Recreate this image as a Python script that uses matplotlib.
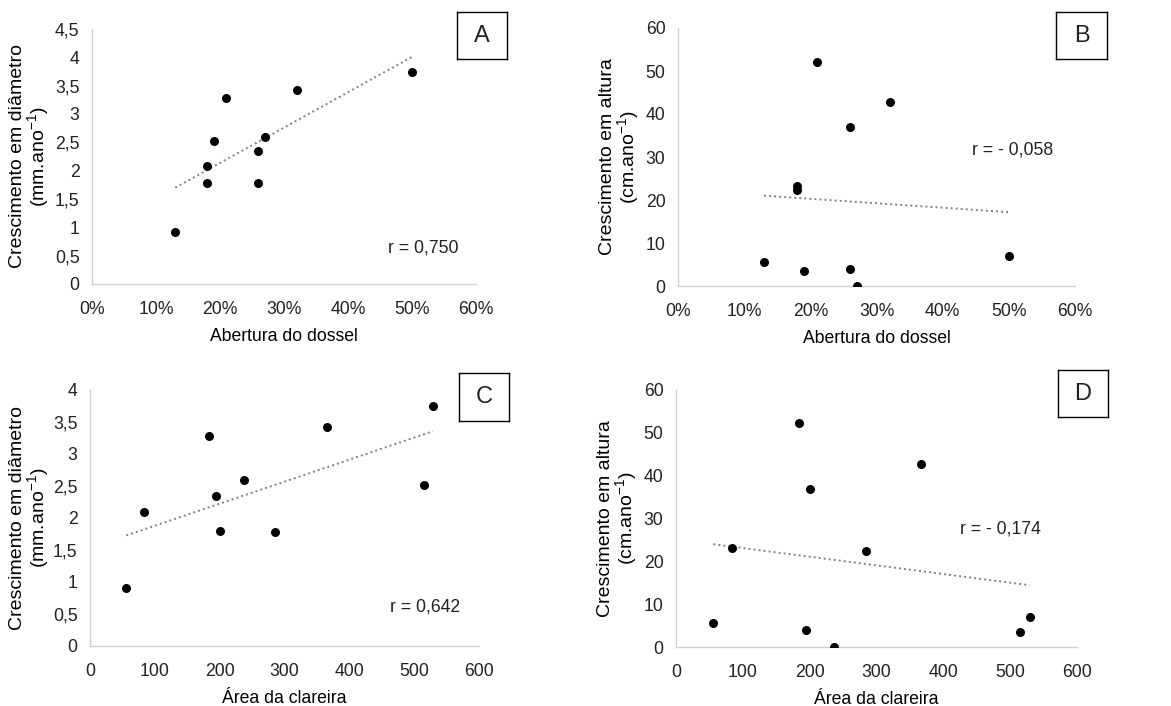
import matplotlib
matplotlib.use("Agg")
import matplotlib.pyplot as plt
import numpy as np
from matplotlib.ticker import FuncFormatter

plt.rcParams.update({
    "font.family": ["Liberation Sans", "DejaVu Sans"],
    "mathtext.fontset": "custom",
    "mathtext.rm": "Liberation Sans",
    "mathtext.default": "regular",
    "font.size": 12.7,
    "text.color": "#222222",
})

# dados por planta (10 indivíduos)
abertura = [0.13, 0.18, 0.18, 0.19, 0.21, 0.26, 0.26, 0.27, 0.32, 0.50]
area = [56, 84, 285, 515, 184, 195, 201, 237, 366, 529]
diametro = [0.91, 2.09, 1.78, 2.52, 3.28, 2.34, 1.79, 2.60, 3.42, 3.75]
altura = [5.6, 23.2, 22.3, 3.6, 52.2, 4.0, 36.9, 0.0, 42.8, 7.0]

r_text = {"A": "r = 0,750", "B": "r = - 0,058", "C": "r = 0,642", "D": "r = - 0,174"}

lab_diam = "Crescimento em diâmetro\n(mm.ano$^{-1}$)"
lab_alt = "Crescimento em altura\n(cm.ano$^{-1}$)"

W, H = 1171, 706
fig = plt.figure(figsize=(W / 100, H / 100), dpi=100)


def px_axes(l, r, t, b):
    return fig.add_axes([l / W, (H - b) / H, (r - l) / W, (b - t) / H])


def comma(v, _):
    s = f"{v:g}"
    return s.replace(".", ",")


def pct(v, _):
    return f"{v * 100:.0f}%"


panels = [
    # letra, caixa axes (px), x, y, xlim, yticks, xlabel, ylabel, pos do r, x do ylabel, caixa da letra
    ("A", (92, 476, 29, 284), abertura, diametro, (0, 0.6), np.arange(0, 4.51, 0.5),
     "Abertura do dossel", lab_diam, (0.771, 0.122), -0.106, (457, 507, 12, 59)),
    ("B", (678, 1075, 28, 286), abertura, altura, (0, 0.6), np.arange(0, 61, 10),
     "Abertura do dossel", lab_alt, (0.74, 0.508), -0.093, (1056, 1107, 12, 59)),
    ("C", (90, 479, 390, 646), area, diametro, (0, 600), np.arange(0, 4.01, 0.5),
     "Área da clareira", lab_diam, (0.771, 0.133), -0.10, (459, 509, 373, 421)),
    ("D", (676, 1077, 390, 647), area, altura, (0, 600), np.arange(0, 61, 10),
     "Área da clareira", lab_alt, (0.709, 0.443), -0.092, (1058, 1108, 370, 417)),
]

for letra, box, x, y, xlim, yticks, xlabel, ylabel, rpos, labx, lbox in panels:
    ax = px_axes(*box)
    x = np.asarray(x, dtype=float)
    y = np.asarray(y, dtype=float)

    # linha de tendência
    a, b = np.polyfit(x, y, 1)
    xs = np.array([x.min(), x.max()])
    ax.plot(xs, a * xs + b, linestyle=(0, (1, 1.6)), color="#808080", lw=1.4, zorder=2)
    ax.scatter(x, y, s=42, color="black", zorder=3, linewidths=0)

    ax.set_xlim(*xlim)
    ax.set_ylim(yticks[0], yticks[-1])
    ax.set_yticks(yticks)
    if xlim[1] < 1:
        ax.set_xticks(np.arange(0, 0.61, 0.1))
        ax.xaxis.set_major_formatter(FuncFormatter(pct))
    else:
        ax.set_xticks(np.arange(0, 601, 100))
    ax.yaxis.set_major_formatter(FuncFormatter(comma))

    for s in ("top", "right"):
        ax.spines[s].set_visible(False)
    for s in ("left", "bottom"):
        ax.spines[s].set_color("#d0d0d0")
        ax.spines[s].set_linewidth(1.0)
    ax.tick_params(axis="both", length=0, labelsize=12.7, colors="#222222")
    ax.tick_params(axis="x", pad=12)
    ax.tick_params(axis="y", pad=9)

    ax.set_xlabel(xlabel, fontsize=12.7)
    ax.xaxis.set_label_coords(0.5, -0.172)
    ax.set_ylabel(ylabel, fontsize=14, linespacing=0.95)
    ax.yaxis.set_label_coords(labx, 0.5)

    ax.text(rpos[0], rpos[1], r_text[letra], transform=ax.transAxes,
            fontsize=12.7, va="baseline", ha="left")

    # caixa com a letra
    l, r, t, bt = lbox
    lax = fig.add_axes([l / W, (H - bt) / H, (r - l) / W, (bt - t) / H])
    lax.set_xticks([])
    lax.set_yticks([])
    for s in lax.spines.values():
        s.set_color("black")
        s.set_linewidth(1.0)
    lax.text(0.5, 0.5, letra, ha="center", va="center", fontsize=17,
             transform=lax.transAxes)

fig.savefig("out.png", dpi=100)
